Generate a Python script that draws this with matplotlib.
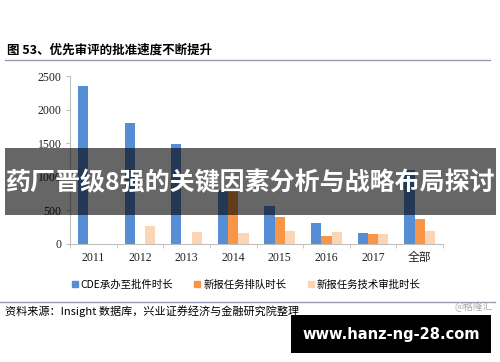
import matplotlib.pyplot as plt
from matplotlib.patches import Rectangle
from matplotlib.lines import Line2D

plt.rcParams['font.family'] = ['Noto Sans CJK SC', 'DejaVu Sans']

# 优先审评时长（天）
categories = ["2011", "2012", "2013", "2014", "2015", "2016", "2017", "全部"]
cde_days = [2350, 1800, 1490, 810, 570, 310, 170, 1100]
queue_days = [0, 0, 0, 790, 400, 125, 150, 365]
review_days = [0, 270, 180, 170, 190, 180, 150, 190]
series_names = ["CDE承办至批件时长", "新报任务排队时长", "新报任务技术审批时长"]
colors = ["#558ED5", "#F79646", "#FCD5B5"]

fig = plt.figure(figsize=(5, 3.62), dpi=100)
ax = fig.add_axes([0.14, 0.326, 0.746, 0.464])

x = list(range(len(categories)))
w = 0.22
ax.bar([i - w for i in x], cde_days, width=w, color=colors[0])
ax.bar(x, queue_days, width=w, color=colors[1])
ax.bar([i + w for i in x], review_days, width=w, color=colors[2])

ax.set_xlim(-0.5, len(categories) - 0.5)
ax.set_ylim(0, 2500)
ax.set_yticks([0, 500, 1000, 1500, 2000, 2500])
ax.set_xticks(x)
ax.set_xticklabels(categories)
ax.set_xticks([i - 0.5 for i in range(len(categories) + 1)], minor=True)
ax.tick_params(axis="x", which="major", length=0, pad=6)
ax.tick_params(axis="x", which="minor", length=3, color="#bfbfbf")
ax.tick_params(axis="y", length=3, color="#bfbfbf", pad=3)
for lab in ax.get_xticklabels() + ax.get_yticklabels():
    lab.set_fontfamily(["Liberation Serif", "Noto Sans CJK SC"])
    lab.set_fontsize(8.5)
    lab.set_color("#222222")
for s in ["top", "right"]:
    ax.spines[s].set_visible(False)
for s in ["left", "bottom"]:
    ax.spines[s].set_color("#bfbfbf")

# title + rules
fig.text(0.014, 0.862, "图 53、优先审评的批准速度不断提升", fontsize=9, fontweight="bold", va="center")
fig.add_artist(Line2D([0.01, 0.98], [0.834, 0.834], color="#9999b3", lw=1))
fig.add_artist(Line2D([0.0, 0.99], [0.166, 0.166], color="#9999b3", lw=1))

handles = [Line2D([], [], marker="s", ls="", color=c, markersize=4) for c in colors]
fig.legend(handles, series_names, loc="center", bbox_to_anchor=(0.492, 0.213), ncol=3,
           frameon=False, fontsize=7.5, handlelength=0.6, handletextpad=0.3, columnspacing=2.0)

fig.text(0.01, 0.141, "资料来源：Insight 数据库，兴业证券经济与金融研究院整理", fontsize=8, va="center")
fig.text(0.986, 0.152, "@格隆汇", fontsize=7, color="#aaaaaa", ha="right", va="center")

# overlay banner
fig.add_artist(Rectangle((0.01, 0.406), 0.982, 0.185, transform=fig.transFigure,
                         color="black", alpha=0.6, lw=0))
fig.text(0.5, 0.494, "药厂晋级8强的关键因素分析与战略布局探讨", fontsize=18, fontweight="bold",
         color="white", ha="center", va="center")

# site box
fig.add_artist(Rectangle((0.582, 0.025), 0.4, 0.105, transform=fig.transFigure,
                         color="black", lw=0))
fig.text(0.782, 0.075, "www.hanz-ng-28.com", fontsize=10.5, fontweight="bold", color="white",
         ha="center", va="center", family="DejaVu Sans")

plt.savefig("out.png", dpi=100)
